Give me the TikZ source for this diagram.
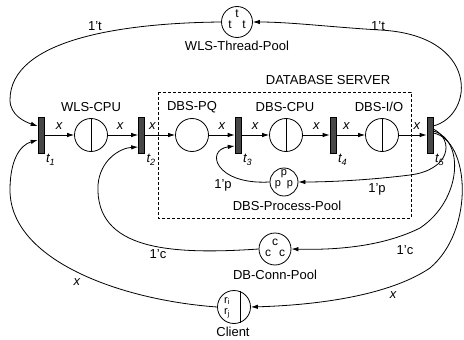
\documentclass[tikz,border=0pt]{standalone}
\usepackage{fontspec}
\setmainfont{Liberation Sans}
\usetikzlibrary{arrows.meta,calc}
\tikzset{
	resource/.style={draw, circle, minimum size=33pt, inner sep=0pt, line width=0.8pt},
	poolpl/.style={resource, minimum size=31pt},
	transbar/.style={draw, fill=black!72, minimum width=6pt, minimum height=36pt, inner sep=0pt, line width=0.6pt},
	flow/.style={line width=0.8pt, -{Latex[length=7pt,width=4.5pt]}},
	lbl/.style={font=\fontsize{13}{15}\selectfont, inner sep=0pt},
	ilbl/.style={font=\fontsize{13}{15}\selectfont\itshape, inner sep=0pt},
	tok/.style={font=\fontsize{12}{14}\selectfont, inner sep=0pt},
}

\begin{document}
\begin{tikzpicture}[x=1pt, y=-1pt]
		%%%%% START %%%%%
		\useasboundingbox (0,0) rectangle (464,340);
		
		% database server box
		\draw[line width=0.6pt, dash pattern=on 3pt off 2pt] (158,92) rectangle (411,218);
		\node[lbl] at (328,80) {DATABASE SERVER};
		
		% transitions
		\node[transbar] (t1) at (41,135) {};
		\node[transbar] (t2) at (141.5,135) {};
		\node[transbar] (t3) at (238,135) {};
		\node[transbar] (t4) at (333,135) {};
		\node[transbar] (t5) at (430,135) {};
		\foreach \i in {1,...,5}
			\node[ilbl, anchor=north west, xshift=1.5pt, yshift=-1pt] at (t\i.south east) {t\textsubscript{\i}};
		
		% queues
		\node[resource] (wcpu) at (91,135) {};
		\node[resource] (dbspq) at (192,135) {};
		\node[resource] (dbscpu) at (286,135) {};
		\node[resource] (dbsio) at (382,135) {};
		\draw[line width=0.8pt] (wcpu.north) -- (wcpu.south);
		\draw[line width=0.8pt] (dbscpu.north) -- (dbscpu.south);
		\draw[line width=0.8pt] (dbsio.north) -- (dbsio.south);
		\node[lbl] at (91,107) {WLS-CPU};
		\node[lbl] at (192,107) {DBS-PQ};
		\node[lbl] at (285,107) {DBS-CPU};
		\node[lbl] at (379,107) {DBS-I/O};
		
		% pools
		\node[poolpl] (tpool) at (237,22) {};
		\node[tok] at ($(tpool)+(0,-8)$) {t};
		\node[tok] at ($(tpool)+(-7,3)$) {t};
		\node[tok] at ($(tpool)+(7,3)$) {t};
		\node[lbl] at (237,46) {WLS-Thread-Pool};
		
		\node[poolpl, minimum size=28pt] (ppool) at (284,182) {};
		\node[tok, font=\fontsize{11}{13}\selectfont] at ($(ppool)+(0,-8)$) {p};
		\node[tok, font=\fontsize{11}{13}\selectfont] at ($(ppool)+(-6,3)$) {p};
		\node[tok, font=\fontsize{11}{13}\selectfont] at ($(ppool)+(6,3)$) {p};
		\node[lbl] at (287,206) {DBS-Process-Pool};
		
		\node[poolpl, minimum size=32pt] (cpool) at (275,249) {};
		\node[tok] at ($(cpool)+(0,-7)$) {c};
		\node[tok] at ($(cpool)+(-7,4)$) {c};
		\node[tok] at ($(cpool)+(7,4)$) {c};
		\node[lbl] at (275,275) {DB-Conn-Pool};
		
		\node[poolpl, minimum size=33pt] (client) at (234,307) {};
		\draw[line width=0.8pt] (client.69) -- (client.-69);
		\node[tok, font=\fontsize{11}{13}\selectfont] at ($(client)+(-7,-6)$) {r\textsubscript{i}};
		\node[tok, font=\fontsize{11}{13}\selectfont] at ($(client)+(-7,6)$) {r\textsubscript{j}};
		\node[lbl] at (233,332) {Client};
		
		% main line
		\draw[flow] (t1) -- node[ilbl, above=5pt] {x} (wcpu);
		\draw[flow] (wcpu) -- node[ilbl, above=5pt, pos=0.4] {x} (t2);
		\draw[flow] (t2) -- node[ilbl, above=5pt, pos=0.25] {x} (dbspq);
		\draw[flow] (dbspq) -- node[ilbl, above=5pt] {x} (t3);
		\draw[flow] (t3) -- node[ilbl, above=5pt] {x} (dbscpu);
		\draw[flow] (dbscpu) -- node[ilbl, above=5pt] {x} (t4);
		\draw[flow] (t4) -- node[ilbl, above=5pt, pos=0.35] {x} (dbsio);
		\draw[flow] (dbsio) -- node[ilbl, above=5pt, pos=0.65] {x} (t5);
		
		% thread pool
		\draw[flow] (tpool.west) .. controls (120,23) and (10,40) .. (10,100)
			.. controls (10,115) and (25,122) .. ([yshift=9pt]t1.west);
		\node[lbl] at (95,26) {1't};
		\draw[flow] ([yshift=9pt]t5.east) .. controls (475,115) and (480,35) .. (380,30)
			.. controls (330,27) and (290,22) .. (tpool.east);
		\node[lbl] at (378,26) {1't};
		
		% process pool
		\draw[flow] ([yshift=6pt]t5.east) .. controls (455,140) and (450,170) .. (410,175)
			.. controls (370,180) and (330,182) .. (ppool.east);
		\node[lbl] at (377,189) {1'p};
		\draw[flow] (ppool.west) .. controls (215,185) and (205,150) .. ([yshift=-11pt]t3.west);
		\node[lbl] at (223,185) {1'p};
		
		% connection pool
		\draw[flow] ([yshift=4pt]t5.east) .. controls (465,140) and (462,200) .. (420,228)
			.. controls (380,248) and (330,250) .. (cpool.east);
		\node[lbl] at (405,250) {1'c};
		\draw[flow] (cpool.west) .. controls (170,255) and (95,250) .. (98,185)
			.. controls (100,160) and (120,148) .. ([yshift=-12pt]t2.west);
		\node[lbl] at (158,254) {1'c};
		
		% client
		\draw[flow] ([yshift=2pt]t5.east) .. controls (470,140) and (475,230) .. (430,268)
			.. controls (390,295) and (320,305) .. (client.east);
		\node[ilbl] at (393,295) {x};
		\draw[flow] (client.west) .. controls (120,300) and (10,260) .. (10,190)
			.. controls (10,160) and (20,145) .. ([yshift=-5pt]t1.west);
		\node[ilbl] at (77,282) {x};
		
		%%%%% END %%%%%
	\end{tikzpicture}
\end{document}
